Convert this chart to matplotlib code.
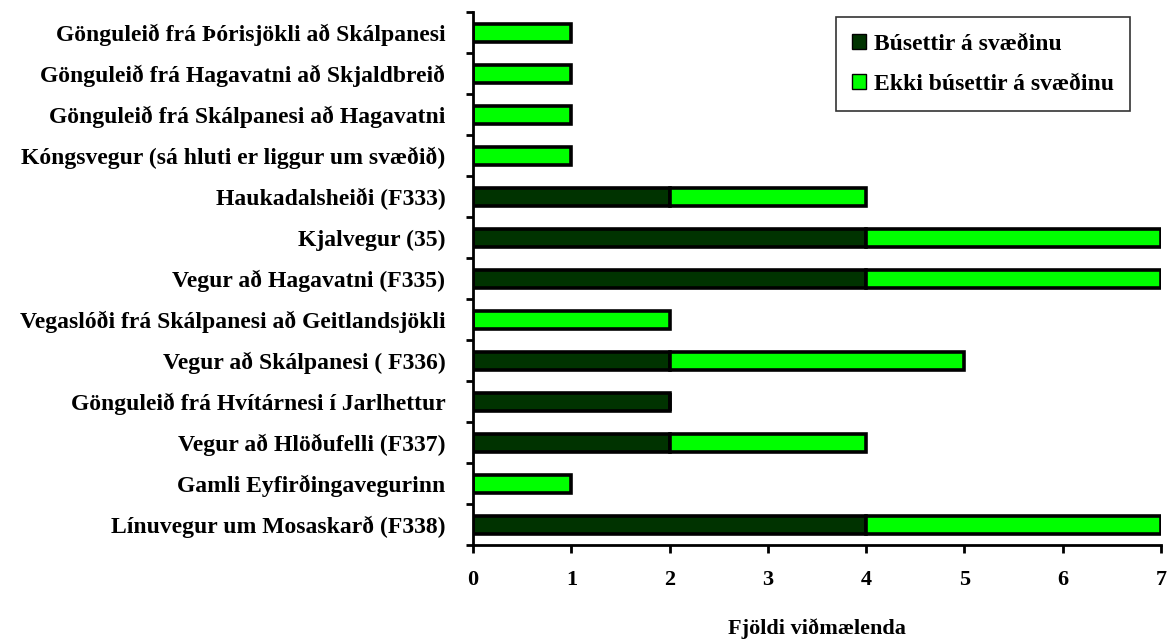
import matplotlib
matplotlib.use("Agg")
import matplotlib.pyplot as plt
import numpy as np

categories = [
    "Gönguleið frá Þórisjökli að Skálpanesi",
    "Gönguleið frá Hagavatni að Skjaldbreið",
    "Gönguleið frá Skálpanesi að Hagavatni",
    "Kóngsvegur (sá hluti er liggur um svæðið)",
    "Haukadalsheiði (F333)",
    "Kjalvegur (35)",
    "Vegur að Hagavatni (F335)",
    "Vegaslóði frá Skálpanesi að Geitlandsjökli",
    "Vegur að Skálpanesi ( F336)",
    "Gönguleið frá Hvítárnesi í Jarlhettur",
    "Vegur að Hlöðufelli (F337)",
    "Gamli Eyfirðingavegurinn",
    "Línuvegur um Mosaskarð (F338)",
]
busettir = [0, 0, 0, 0, 2, 4, 4, 0, 2, 2, 2, 0, 4]
ekki_busettir = [1, 1, 1, 1, 2, 3, 3, 2, 3, 0, 2, 1, 3]
series_labels = ["Búsettir á svæðinu", "Ekki búsettir á svæðinu"]
x_ticks = [0, 1, 2, 3, 4, 5, 6, 7]
x_label = "Fjöldi viðmælenda"

plt.rcParams['font.family'] = ['Liberation Serif', 'DejaVu Serif']
plt.rcParams['font.weight'] = 'bold'

fig = plt.figure(figsize=(11.68, 6.39), dpi=100)
ax = fig.add_axes([0.405, 0.147, 0.589, 0.834])

y = np.arange(len(categories))
h = 0.44
dark = "#003300"
light = "#00FF00"
ax.barh(y, busettir, height=h, color=dark, edgecolor="black", linewidth=2.6,
        label=series_labels[0])
ax.barh(y, ekki_busettir, height=h, left=busettir, color=light, edgecolor="black",
        linewidth=2.6, label=series_labels[1])

ax.set_xlim(0, 7)
ax.set_ylim(len(categories) - 0.5, -0.5)
ax.set_xticks(x_ticks)
ax.set_xticklabels([str(t) for t in x_ticks], fontsize=16, fontweight='bold')
ax.set_yticks(y)
ax.set_yticklabels(categories, fontsize=17, fontweight='bold')
ax.tick_params(axis='y', which='major', length=0, pad=20)
ax.set_yticks(np.arange(len(categories) + 1) - 0.5, minor=True)
ax.tick_params(axis='y', which='minor', length=5, width=2, direction='out')
ax.tick_params(axis='x', which='major', length=6, width=2, direction='out', pad=12)
ax.set_xlabel(x_label, fontsize=16, fontweight='bold', labelpad=20)

for s in ['top', 'right']:
    ax.spines[s].set_visible(False)
for s in ['left', 'bottom']:
    ax.spines[s].set_linewidth(2)

leg = ax.legend(loc='upper right', bbox_to_anchor=(0.955, 0.99), fontsize=17,
                frameon=True, fancybox=False, shadow=False, handlelength=0.6,
                handleheight=0.6, borderpad=0.7, labelspacing=0.8, handletextpad=0.3,
                borderaxespad=0.0)
leg.get_frame().set_edgecolor('black')
leg.get_frame().set_linewidth(1.2)
for p in leg.get_patches():
    p.set_linewidth(1.0)

fig.savefig("out.png", dpi=100)
